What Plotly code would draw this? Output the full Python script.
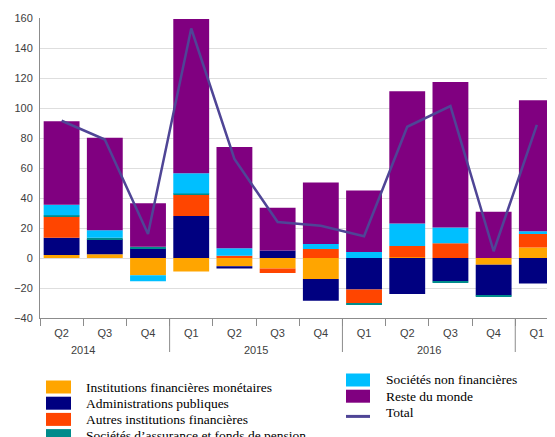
import plotly.graph_objects as go

# ---- data ----
years = ["2014", "2014", "2014", "2015", "2015", "2015", "2015",
         "2016", "2016", "2016", "2016", "2017"]
quarters = ["Q2", "Q3", "Q4", "Q1", "Q2", "Q3", "Q4",
            "Q1", "Q2", "Q3", "Q4", "Q1"]
ifm = [2, 2.5, -11.5, -9, -5.5, -7, -14, 0, 0.5, 0, -4.5, 7]
ap = [11.5, 10, 6.5, 28, -1.5, 5, -14.5, -21, -24, -15.5, -20.5, -17]
aif = [14, 0, 0, 14, 1.5, -3, 6, -9, 7.5, 9.8, 0, 9]
safp = [1, 1, 1, 1, 0, 0, 0, -1.2, 0, -1, -1, 0]
snf = [7, 5, -4, 13.5, 5, 0, 3.3, 4, 15, 10.6, 0, 1.8]
rdm = [55.7, 61.7, 29, 102.8, 67.5, 28.5, 41, 41, 88.2, 97, 30.9, 87.3]
total = [91.5, 79, 16, 153, 66, 24, 21.5, 14.5, 87.5, 101.3, 4.5, 88.7]

cats = [f"{y} {q}" for y, q in zip(years, quarters)]

series = [
    ("Institutions financières monétaires", ifm, "#FFA500"),
    ("Administrations publiques", ap, "#000080"),
    ("Autres institutions financières", aif, "#FF4500"),
    ("Sociétés d’assurance et fonds de pension", safp, "#008B8B"),
    ("Sociétés non financières", snf, "#00BFFF"),
    ("Reste du monde", rdm, "#800080"),
]
total_name = "Total"
total_color = "#4F4596"

fig = go.Figure()
for name, vals, col in series:
    fig.add_trace(go.Bar(x=cats, y=vals, name=name, marker_color=col,
                         marker_line_width=0, showlegend=False))
fig.add_trace(go.Scatter(x=cats, y=total, name=total_name, mode="lines",
                         line=dict(color=total_color, width=2.5), showlegend=False))

# page offset (default body margin of the html page)
OFF = 8
W, H = 555, 437
# plot area in screen pixels
L, R, T, B = 40, 555, 18, 318
def px(X):
    return (X - L) / (R - L)
def py(Y):
    return (B - Y) / (B - T)

shapes = []
annotations = []

# year labels and dividers
seen = {}
for i, (y, q) in enumerate(zip(years, quarters)):
    if y not in seen:
        qn = int(q[1])
        seen[y] = i - (qn - 1) + 1.5
        if i > 0:
            shapes.append(dict(type="line", xref="x", yref="paper",
                               x0=i - 0.5, x1=i - 0.5, y0=0, y1=py(352),
                               line=dict(color="#8c8c8c", width=1)))
for y, c in seen.items():
    annotations.append(dict(x=c, y=py(350), xref="x", yref="paper", text=y,
                            showarrow=False, yanchor="middle",
                            font=dict(family="Liberation Sans", size=11, color="#404040")))

# legend (two columns)
legend_font = dict(family="Liberation Serif", size=13.5, color="black")
left_items = series[:4]
right_items = series[4:]
row_h = 16.2
for k, (name, _, col) in enumerate(left_items):
    yc = 387 + k * row_h
    shapes.append(dict(type="rect", xref="paper", yref="paper",
                       x0=px(46), x1=px(71), y0=py(yc - 6.5), y1=py(yc + 6.5),
                       fillcolor=col, line=dict(width=0)))
    annotations.append(dict(x=px(84), y=py(yc), xref="paper", yref="paper",
                            text=name, showarrow=False, xanchor="left", yanchor="middle",
                            font=legend_font))
for k, (name, _, col) in enumerate(right_items):
    yc = 380 + k * row_h
    shapes.append(dict(type="rect", xref="paper", yref="paper",
                       x0=px(346), x1=px(370), y0=py(yc - 6.5), y1=py(yc + 6.5),
                       fillcolor=col, line=dict(width=0)))
    annotations.append(dict(x=px(384), y=py(yc), xref="paper", yref="paper",
                            text=name, showarrow=False, xanchor="left", yanchor="middle",
                            font=legend_font))
yc = 380 + 2 * row_h
shapes.append(dict(type="line", xref="paper", yref="paper",
                   x0=px(346), x1=px(370), y0=py(yc + 4), y1=py(yc + 4),
                   line=dict(color=total_color, width=3)))
annotations.append(dict(x=px(384), y=py(yc), xref="paper", yref="paper",
                        text=total_name, showarrow=False, xanchor="left", yanchor="middle",
                        font=legend_font))

fig.update_layout(
    barmode="relative",
    bargap=0.17,
    width=W, height=H,
    margin=dict(l=L - OFF, r=W - (R - OFF), t=T - OFF, b=H - (B - OFF), autoexpand=False),
    plot_bgcolor="white", paper_bgcolor="white",
    font=dict(family="Liberation Sans", size=11, color="#404040"),
    shapes=shapes, annotations=annotations, showlegend=False,
)
fig.update_xaxes(type="category", tickmode="array", tickvals=cats, ticktext=quarters,
                 range=[-0.5, 11.42], showline=True, linecolor="#8c8c8c",
                 ticks="outside", tickson="boundaries", ticklen=7, tickcolor="#8c8c8c",
                 ticklabelstandoff=5,
                 showgrid=False, automargin=False, tickfont=dict(size=11, color="#404040"))
fig.update_yaxes(range=[-40, 160], dtick=20, showline=True, linecolor="#8c8c8c",
                 gridcolor="#dedede", gridwidth=1, zeroline=False, automargin=False,
                 ticks="outside", ticklen=4, tickcolor="rgba(0,0,0,0)",
                 tickfont=dict(size=11, color="#404040"))

fig.write_html("out.html")
